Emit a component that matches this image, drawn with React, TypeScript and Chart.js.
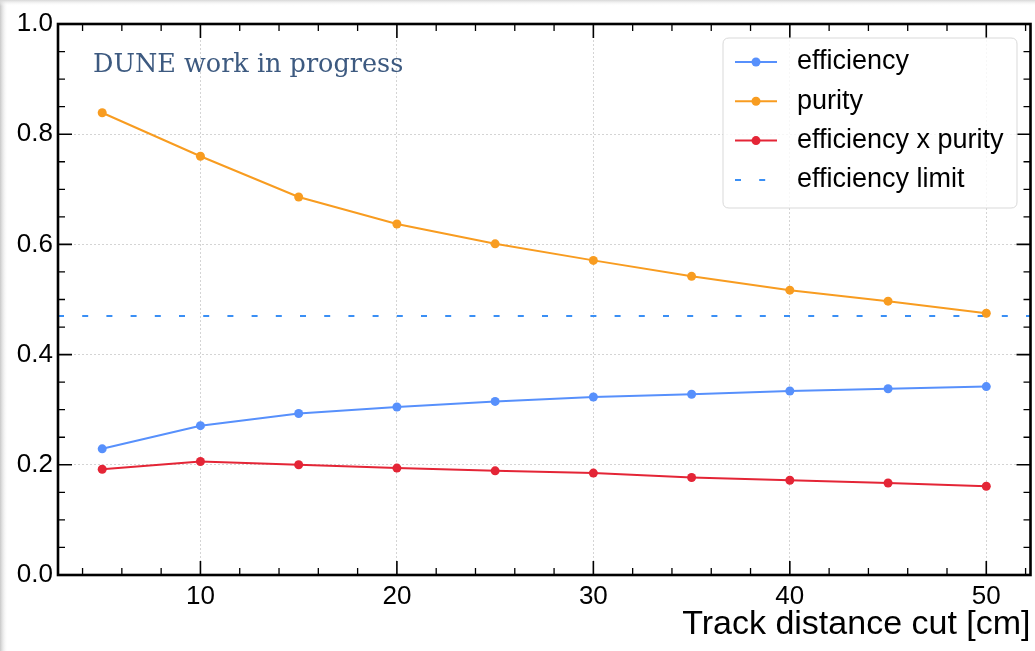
import React, { useEffect, useRef } from 'react';
import { Chart, registerables } from 'chart.js';

Chart.register(...registerables);

// ---- data ----
const CUTS = [5, 10, 15, 20, 25, 30, 35, 40, 45, 50];
const EFFICIENCY = [0.229, 0.271, 0.293, 0.305, 0.315, 0.323, 0.328, 0.334, 0.338, 0.342];
const PURITY = [0.839, 0.760, 0.686, 0.637, 0.601, 0.571, 0.542, 0.517, 0.497, 0.475];
const EFF_X_PURITY = [0.192, 0.206, 0.200, 0.194, 0.189, 0.185, 0.177, 0.172, 0.167, 0.161];
const EFFICIENCY_LIMIT = 0.47;

const SERIES_LABELS = ['efficiency', 'purity', 'efficiency x purity', 'efficiency limit'];
const SERIES_COLORS = ['#5790fc', '#f89c20', '#e42536', '#3a8ff5'];

const X_MIN = 2.75;
const X_MAX = 52.25;
const X_MAJOR_TICKS = [10, 20, 30, 40, 50];
const X_MINOR_STEP = 2;
const Y_MIN = 0;
const Y_MAX = 1;
const Y_MAJOR_STEP = 0.2;
const Y_MINOR_STEP = 0.05;

const X_TITLE = 'Track distance cut [cm]';
const WATERMARK = 'DUNE work in progress';

const SANS = '"Liberation Sans", Arial, Helvetica, sans-serif';

const toXY = (ys: number[]) => CUTS.map((x, i) => ({ x, y: ys[i] }));

const decorPlugin = {
  id: 'decor',
  beforeDraw(chart: any) {
    const { ctx, width, height } = chart;
    ctx.save();
    ctx.fillStyle = '#ffffff';
    ctx.fillRect(0, 0, width, height);
    let g = ctx.createLinearGradient(0, 0, 8, 0);
    g.addColorStop(0, 'rgba(200,200,200,1)');
    g.addColorStop(1, 'rgba(255,255,255,0)');
    ctx.fillStyle = g;
    ctx.fillRect(0, 0, 8, height);
    g = ctx.createLinearGradient(0, 0, 0, 6);
    g.addColorStop(0, 'rgba(215,215,215,1)');
    g.addColorStop(1, 'rgba(255,255,255,0)');
    ctx.fillStyle = g;
    ctx.fillRect(0, 0, width, 6);
    ctx.restore();
  },
  afterDraw(chart: any) {
    const { ctx, chartArea } = chart;
    const xs = chart.scales.x;
    const ys = chart.scales.y;
    const { left, right, top, bottom } = chartArea;
    ctx.save();

    // tick marks (inward, all four sides)
    ctx.strokeStyle = '#000';
    const drawX = (v: number, len: number, w: number) => {
      const px = xs.getPixelForValue(v);
      ctx.lineWidth = w;
      ctx.beginPath();
      ctx.moveTo(px, bottom);
      ctx.lineTo(px, bottom - len);
      ctx.moveTo(px, top);
      ctx.lineTo(px, top + len);
      ctx.stroke();
    };
    const drawY = (v: number, len: number, w: number) => {
      const py = ys.getPixelForValue(v);
      ctx.lineWidth = w;
      ctx.beginPath();
      ctx.moveTo(left, py);
      ctx.lineTo(left + len, py);
      ctx.moveTo(right, py);
      ctx.lineTo(right - len, py);
      ctx.stroke();
    };
    for (let v = Math.ceil(X_MIN / X_MINOR_STEP) * X_MINOR_STEP; v <= X_MAX; v += X_MINOR_STEP) {
      if (X_MAJOR_TICKS.includes(v)) drawX(v, 14, 1.6);
      else drawX(v, 7, 1.3);
    }
    const nMinor = Math.round((Y_MAX - Y_MIN) / Y_MINOR_STEP);
    const per = Math.round(Y_MAJOR_STEP / Y_MINOR_STEP);
    for (let i = 1; i < nMinor; i++) {
      const v = Y_MIN + i * Y_MINOR_STEP;
      if (i % per === 0) drawY(v, 14, 1.6);
      else drawY(v, 7, 1.3);
    }

    // frame
    ctx.lineWidth = 2.6;
    ctx.strokeStyle = '#000';
    ctx.strokeRect(left, top, right - left, bottom - top);

    // watermark
    ctx.fillStyle = '#3d5a80';
    ctx.font = '25.5px "DejaVu Serif", serif';
    ctx.textAlign = 'left';
    ctx.textBaseline = 'alphabetic';
    ctx.fillText(WATERMARK, 93, 72);

    // legend
    const bx = 723, by = 38, bw = 294, bh = 170, r = 6;
    ctx.beginPath();
    ctx.moveTo(bx + r, by);
    ctx.lineTo(bx + bw - r, by);
    ctx.quadraticCurveTo(bx + bw, by, bx + bw, by + r);
    ctx.lineTo(bx + bw, by + bh - r);
    ctx.quadraticCurveTo(bx + bw, by + bh, bx + bw - r, by + bh);
    ctx.lineTo(bx + r, by + bh);
    ctx.quadraticCurveTo(bx, by + bh, bx, by + bh - r);
    ctx.lineTo(bx, by + r);
    ctx.quadraticCurveTo(bx, by, bx + r, by);
    ctx.closePath();
    ctx.fillStyle = 'rgba(255,255,255,0.8)';
    ctx.fill();
    ctx.lineWidth = 1;
    ctx.strokeStyle = '#d9d9d9';
    ctx.stroke();

    chart.data.datasets.forEach((ds: any, i: number) => {
      const cy = 62 + i * 39.3;
      ctx.strokeStyle = ds.borderColor;
      ctx.lineWidth = 2;
      ctx.setLineDash(ds.borderDash || []);
      ctx.beginPath();
      ctx.moveTo(735, cy);
      ctx.lineTo(777, cy);
      ctx.stroke();
      ctx.setLineDash([]);
      if (ds.pointRadius > 0) {
        ctx.fillStyle = ds.backgroundColor;
        ctx.beginPath();
        ctx.arc(756, cy, 4.5, 0, Math.PI * 2);
        ctx.fill();
      }
      ctx.fillStyle = '#000';
      ctx.font = `27px ${SANS}`;
      ctx.textBaseline = 'middle';
      ctx.fillText(ds.label, 797, cy);
    });

    ctx.restore();
  },
};

export default function App() {
  const ref = useRef<HTMLCanvasElement | null>(null);

  useEffect(() => {
    document.body.style.margin = '0';
    const canvas = ref.current;
    if (!canvas) return;
    const mk = (label: string, color: string, ys: number[]) => ({
      label,
      data: toXY(ys),
      showLine: true,
      borderColor: color,
      backgroundColor: color,
      borderWidth: 2,
      pointRadius: 4.5,
      pointBorderWidth: 0,
      pointHoverRadius: 4.5,
    });
    const chart = new Chart(canvas, {
      type: 'scatter',
      data: {
        datasets: [
          mk(SERIES_LABELS[0], SERIES_COLORS[0], EFFICIENCY),
          mk(SERIES_LABELS[1], SERIES_COLORS[1], PURITY),
          mk(SERIES_LABELS[2], SERIES_COLORS[2], EFF_X_PURITY),
          {
            label: SERIES_LABELS[3],
            data: [
              { x: X_MIN, y: EFFICIENCY_LIMIT },
              { x: X_MAX, y: EFFICIENCY_LIMIT },
            ],
            showLine: true,
            borderColor: SERIES_COLORS[3],
            backgroundColor: SERIES_COLORS[3],
            borderWidth: 2,
            borderDash: [6, 18.2],
            pointRadius: 0,
            pointHoverRadius: 0,
          } as any,
        ],
      },
      options: {
        responsive: false,
        animation: false,
        events: [],
        layout: { padding: { left: 0, right: 4, top: 24, bottom: 0 } },
        plugins: { legend: { display: false }, tooltip: { enabled: false } },
        scales: {
          x: {
            type: 'linear',
            min: X_MIN,
            max: X_MAX,
            afterBuildTicks: (s: any) => {
              s.ticks = X_MAJOR_TICKS.map((v) => ({ value: v }));
            },
            afterFit: (s: any) => {
              s.height = 76;
            },
            grid: { color: '#d4d4d4', lineWidth: 1, drawTicks: false },
            border: { display: false, dash: [2, 2] },
            ticks: {
              padding: 6,
              color: '#000',
              font: { size: 26, family: SANS },
              maxRotation: 0,
              autoSkip: false,
            },
            title: {
              display: true,
              text: X_TITLE,
              align: 'end',
              color: '#000',
              font: { size: 34, family: SANS, lineHeight: 1 },
              padding: { top: 0, bottom: 9 },
            },
          },
          y: {
            type: 'linear',
            min: Y_MIN,
            max: Y_MAX,
            afterFit: (s: any) => {
              s.width = 58;
            },
            grid: { color: '#d4d4d4', lineWidth: 1, drawTicks: false },
            border: { display: false, dash: [2, 2] },
            ticks: {
              stepSize: Y_MAJOR_STEP,
              padding: 5,
              color: '#000',
              font: { size: 26, family: SANS },
              callback: (v: any) => Number(v).toFixed(1),
            },
          },
        },
      } as any,
      plugins: [decorPlugin],
    });
    return () => chart.destroy();
  }, []);

  return (
    <div style={{ position: 'absolute', left: 0, top: 0 }}>
      <canvas ref={ref} width={1035} height={651} style={{ display: 'block', width: 1035, height: 651 }} />
    </div>
  );
}
